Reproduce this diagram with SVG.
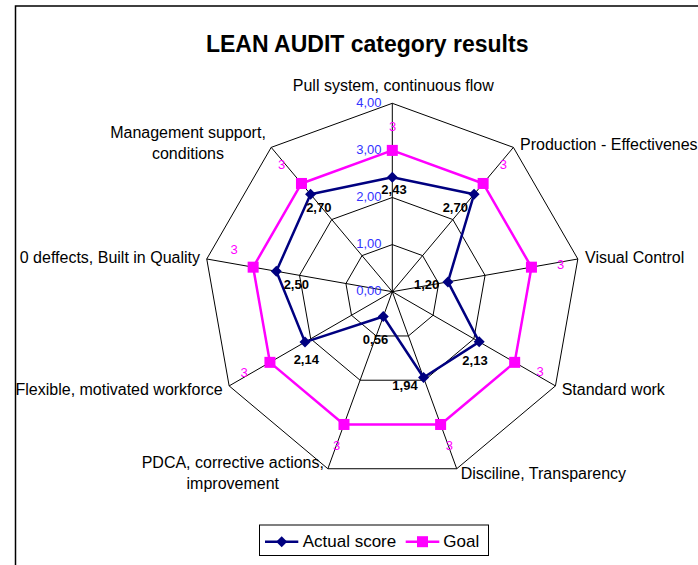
<svg xmlns="http://www.w3.org/2000/svg" width="698" height="565" viewBox="0 0 698 565">
<style>
.grid{fill:none;stroke:#000;stroke-width:1}
.cat{font-family:"Liberation Sans",Arial,sans-serif;font-size:16px;fill:#000}
.axis{font-family:"Liberation Sans",Arial,sans-serif;font-size:13px;fill:#3333ff;text-anchor:end}
.val{font-family:"Liberation Sans",Arial,sans-serif;font-size:13px;font-weight:bold;fill:#000;text-anchor:middle}
.goalv{font-family:"Liberation Sans",Arial,sans-serif;font-size:13px;fill:#ff00ff;text-anchor:middle}
.act{fill:none;stroke:#000080;stroke-width:2.5;stroke-linejoin:round}
.goal{fill:none;stroke:#ff00ff;stroke-width:2.5;stroke-linejoin:round}
.leg{font-family:"Liberation Sans",Arial,sans-serif;font-size:17px;fill:#000}
</style>
<defs>
<path id="dia" d="M0,-5.5 L5.5,0 L0,5.5 L-5.5,0 Z" fill="#000080"/>
<rect id="sq" x="-5.5" y="-5.5" width="11" height="11" fill="#ff00ff"/>
</defs>
<rect width="698" height="565" fill="#fff"/>
<rect id="frame" x="15.5" y="6" width="700" height="600" fill="none" stroke="#000" stroke-width="1.5"/>
<text id="title" x="367.2" y="51.7" font-family="'Liberation Sans',Arial,sans-serif" font-size="23" font-weight="bold" text-anchor="middle">LEAN AUDIT category results</text>

<g id="grid" class="grid">
<polygon points="392.3,244.6 422.58,255.62 438.68,283.52 433.09,315.25 408.41,335.96 376.19,335.96 351.51,315.25 345.92,283.52 362.02,255.62"/>
<polygon points="392.3,197.5 452.85,219.54 485.07,275.35 473.88,338.8 424.52,380.22 360.08,380.22 310.72,338.8 299.53,275.35 331.75,219.54"/>
<polygon points="392.3,150.4 483.13,183.46 531.45,267.17 514.67,362.35 440.62,424.48 343.98,424.48 269.93,362.35 253.15,267.17 301.47,183.46"/>
<polygon points="392.3,103.3 513.4,147.39 577.84,258.99 555.45,385.9 456.73,468.74 327.87,468.74 229.15,385.9 206.76,258.99 271.2,147.39"/>
<path d="M392.3,291.7 L392.3,103.3 M392.3,291.7 L513.4,147.39 M392.3,291.7 L577.84,258.99 M392.3,291.7 L555.45,385.9 M392.3,291.7 L456.73,468.74 M392.3,291.7 L327.87,468.74 M392.3,291.7 L229.15,385.9 M392.3,291.7 L206.76,258.99 M392.3,291.7 L271.2,147.39"/>
</g>

<g id="axis-labels">
<text class="axis" x="381.5" y="107">4,00</text>
<text class="axis" x="381.5" y="154">3,00</text>
<text class="axis" x="381.5" y="201">2,00</text>
<text class="axis" x="381.5" y="248">1,00</text>
<text class="axis" x="381.5" y="295">0,00</text>
</g>

<g id="series-goal">
<polygon class="goal" points="392.3,150.4 483.13,183.46 531.45,267.17 514.67,362.35 440.62,424.48 343.98,424.48 269.93,362.35 253.15,267.17 301.47,183.46"/>
<use href="#sq" x="392.3" y="150.4"/>
<use href="#sq" x="483.13" y="183.46"/>
<use href="#sq" x="531.45" y="267.17"/>
<use href="#sq" x="514.67" y="362.35"/>
<use href="#sq" x="440.62" y="424.48"/>
<use href="#sq" x="343.98" y="424.48"/>
<use href="#sq" x="269.93" y="362.35"/>
<use href="#sq" x="253.15" y="267.17"/>
<use href="#sq" x="301.47" y="183.46"/>
</g>

<g id="series-actual">
<polygon class="act" points="392.3,177.25 474.05,194.29 447.96,281.89 479.18,341.86 423.55,377.56 383.28,316.49 305.01,342.1 276.34,271.26 310.55,194.29"/>
<use href="#dia" x="392.3" y="177.25"/>
<use href="#dia" x="474.05" y="194.29"/>
<use href="#dia" x="447.96" y="281.89"/>
<use href="#dia" x="479.18" y="341.86"/>
<use href="#dia" x="423.55" y="377.56"/>
<use href="#dia" x="383.28" y="316.49"/>
<use href="#dia" x="305.01" y="342.1"/>
<use href="#dia" x="276.34" y="271.26"/>
<use href="#dia" x="310.55" y="194.29"/>
</g>

<g id="goal-values">
<text class="goalv" x="392.7" y="131.4">3</text>
<text class="goalv" x="503.3" y="169">3</text>
<text class="goalv" x="560.7" y="268.7">3</text>
<text class="goalv" x="540" y="376.4">3</text>
<text class="goalv" x="449.3" y="449.7">3</text>
<text class="goalv" x="336.7" y="449.7">3</text>
<text class="goalv" x="244" y="377.4">3</text>
<text class="goalv" x="234" y="254">3</text>
<text class="goalv" x="281.7" y="169">3</text>
</g>

<g id="actual-values">
<text class="val" x="394" y="193.7">2,43</text>
<text class="val" x="455.3" y="212">2,70</text>
<text class="val" x="426.7" y="289">1,20</text>
<text class="val" x="475" y="365.4">2,13</text>
<text class="val" x="405" y="389.7">1,94</text>
<text class="val" x="375.5" y="343.7">0,56</text>
<text class="val" x="306.3" y="363.7">2,14</text>
<text class="val" x="296.3" y="289">2,50</text>
<text class="val" x="318.8" y="212">2,70</text>
</g>

<g id="categories">
<text class="cat" x="393.3" y="91" text-anchor="middle">Pull system, continuous flow</text>
<text class="cat" x="520" y="150">Production - Effectivenes</text>
<text class="cat" x="585" y="263.3">Visual Control</text>
<text class="cat" x="561.7" y="395">Standard work</text>
<text class="cat" x="460.7" y="479.3">Disciline, Transparency</text>
<text class="cat" x="232.8" y="468.3" text-anchor="middle">PDCA, corrective actions,</text>
<text class="cat" x="232.8" y="489.3" text-anchor="middle">improvement</text>
<text class="cat" x="222.7" y="395" text-anchor="end">Flexible, motivated workforce</text>
<text class="cat" x="200" y="263.3" text-anchor="end">0 deffects, Built in Quality</text>
<text class="cat" x="188" y="138.3" text-anchor="middle">Management support,</text>
<text class="cat" x="188" y="159.3" text-anchor="middle">conditions</text>
</g>

<g id="legend">
<rect x="259.5" y="525" width="229" height="30.5" fill="#fff" stroke="#000" stroke-width="1"/>
<line x1="265" y1="541.7" x2="298.3" y2="541.7" stroke="#000080" stroke-width="2.5"/>
<use href="#dia" x="281.7" y="541.7"/>
<text class="leg" x="302.7" y="546.7">Actual score</text>
<line x1="405.7" y1="541.7" x2="439.3" y2="541.7" stroke="#ff00ff" stroke-width="2.5"/>
<use href="#sq" x="422.5" y="541.7"/>
<text class="leg" x="443.3" y="546.7">Goal</text>
</g>
</svg>
